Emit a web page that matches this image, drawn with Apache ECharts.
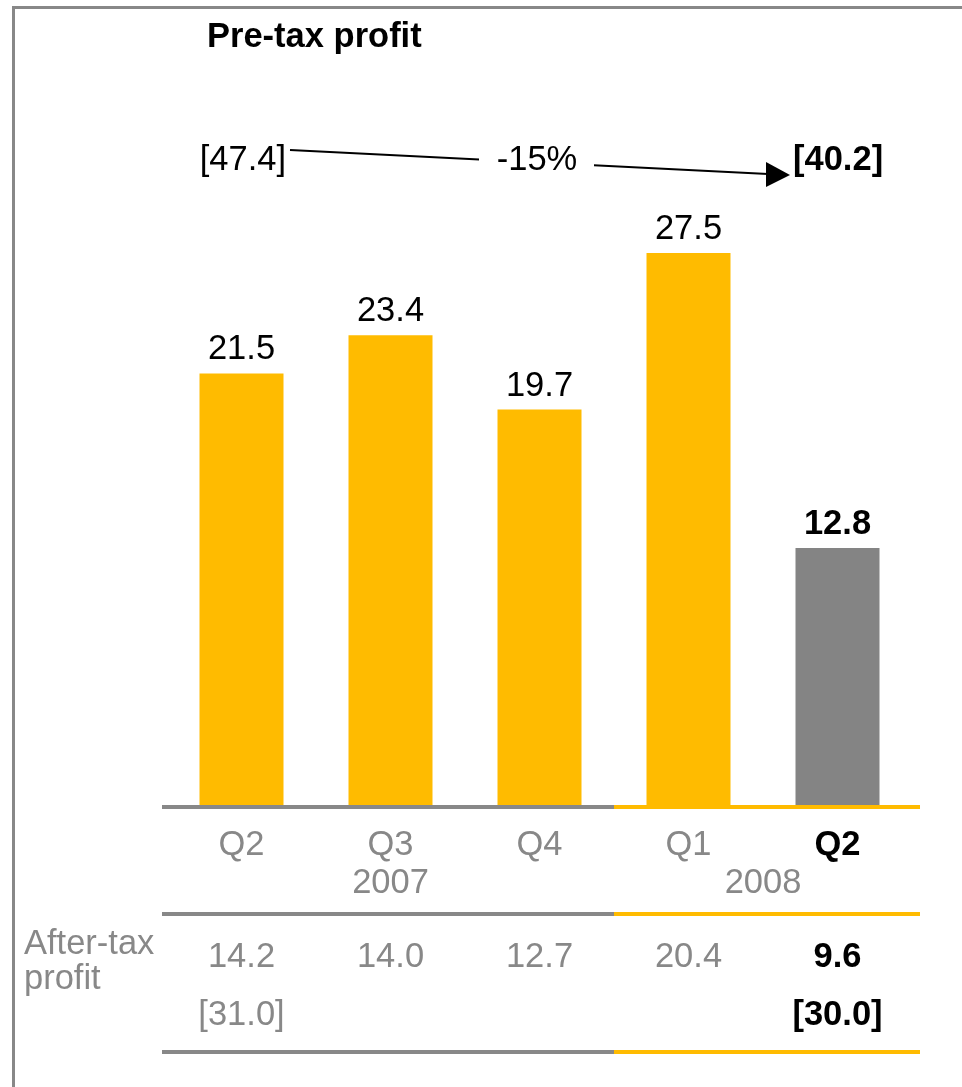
<!DOCTYPE html>
<html>
<head>
<meta charset="utf-8">
<script src="https://cdn.jsdelivr.net/npm/echarts@6/dist/echarts.min.js"></script>
<style>
html,body{margin:0;padding:0;background:#fff;}
#c{width:962px;height:1087px;}
</style>
</head>
<body>
<div id="c"></div>
<script>
const title = 'Pre-tax profit';
const categories = ['Q2', 'Q3', 'Q4', 'Q1', 'Q2'];
const years = ['2007', '2008'];
const preTax = [21.5, 23.4, 19.7, 27.5, 12.8];
const afterTax = [14.2, 14.0, 12.7, 20.4, 9.6];
const halfYearPreTax = ['[47.4]', '[40.2]'];
const halfYearChange = '-15%';
const halfYearAfterTax = ['[31.0]', '[30.0]'];
const afterTaxLabel = 'After-tax\nprofit';

const YELLOW = '#FFBB00';
const GRAY = '#888888';
const BAR_GRAY = '#848484';
const FONT = '"Liberation Sans", Arial, Helvetica, sans-serif';
const FS = 34.5;
const last = categories.length - 1;

const chart = echarts.init(document.getElementById('c'), null, {renderer: 'canvas'});

const option = {
  backgroundColor: '#fff',
  animation: false,
  textStyle: {fontFamily: FONT},
  grid: {left: 167, right: 50, top: 2, bottom: 282},
  xAxis: {
    type: 'category',
    data: categories,
    axisLine: {show: false},
    axisTick: {show: false},
    axisLabel: {
      margin: 23,
      formatter: (v, i) => i === last ? '{b|' + v + '}' : '{n|' + v + '}',
      rich: {
        n: {fontSize: FS, color: GRAY, fontFamily: FONT},
        b: {fontSize: FS, color: '#000', fontWeight: 'bold', fontFamily: FONT}
      }
    }
  },
  yAxis: {
    type: 'value', min: 0, max: 40,
    show: false, splitLine: {show: false}
  },
  series: [{
    type: 'bar',
    barWidth: 84,
    data: preTax.map((v, i) => ({
      value: v,
      itemStyle: {color: i === last ? BAR_GRAY : YELLOW},
      label: {fontWeight: i === last ? 'bold' : 'normal'}
    })),
    label: {
      show: true, position: 'top', distance: 6,
      fontSize: FS, color: '#000', fontFamily: FONT,
      formatter: p => p.value.toFixed(1)
    }
  }]
};
chart.setOption(option);

function px(i) { return chart.convertToPixel({xAxisIndex: 0}, i); }
function py(v) { return chart.convertToPixel({yAxisIndex: 0}, v); }

const xs = categories.map((c, i) => px(i));
const band = xs[1] - xs[0];
const lineL = xs[0] - band / 2 - 5;
const lineR = xs[last] + band / 2 + 8;
const split = (xs[2] + xs[3]) / 2;
const base = py(0) + 2;

function twoColorLine(y) {
  return [
    {type: 'line', shape: {x1: lineL, y1: y, x2: split, y2: y}, style: {stroke: GRAY, lineWidth: 4}},
    {type: 'line', shape: {x1: split, y1: y, x2: lineR, y2: y}, style: {stroke: YELLOW, lineWidth: 4}}
  ];
}
function txt(x, y, text, opts) {
  return {
    type: 'text', x: x, y: y,
    style: Object.assign({text: text, fontSize: FS, fontFamily: FONT, fill: '#000', align: 'center', verticalAlign: 'middle'}, opts || {})
  };
}

const graphics = [];
// frame
graphics.push({type: 'polyline', shape: {points: [[13.5, 1087], [13.5, 7.5], [962, 7.5]]}, style: {stroke: GRAY, lineWidth: 3, fill: null}});
// title
graphics.push(txt(207, 37, title, {align: 'left', fontWeight: 'bold', fontSize: 34.5}));
// axis lines
graphics.push(...twoColorLine(base));
graphics.push(...twoColorLine(914));
graphics.push(...twoColorLine(1052));
// year labels
graphics.push(txt(xs[1], 883, years[0], {fill: GRAY}));
graphics.push(txt((xs[3] + xs[4]) / 2, 883, years[1], {fill: GRAY}));
// half-year arrow
graphics.push({type: 'line', shape: {x1: 290, y1: 150, x2: 768, y2: 174}, style: {stroke: '#000', lineWidth: 2.2}});
graphics.push({type: 'polygon', shape: {points: [[766, 162], [790, 175], [766, 187]]}, style: {fill: '#000'}});
graphics.push({type: 'rect', shape: {x: 479, y: 140, width: 115, height: 40}, style: {fill: '#fff'}});
graphics.push(txt(537, 160, halfYearChange));
graphics.push(txt(286, 160, halfYearPreTax[0], {align: 'right'}));
graphics.push(txt(793, 160, halfYearPreTax[1], {align: 'left', fontWeight: 'bold'}));
// after-tax table
graphics.push(txt(24, 962, afterTaxLabel, {align: 'left', fill: GRAY, lineHeight: 35}));
afterTax.forEach((v, i) => {
  graphics.push(txt(xs[i], 957, v.toFixed(1), {fill: i === last ? '#000' : GRAY, fontWeight: i === last ? 'bold' : 'normal'}));
});
graphics.push(txt(xs[0], 1015, halfYearAfterTax[0], {fill: GRAY}));
graphics.push(txt(xs[last], 1015, halfYearAfterTax[1], {fontWeight: 'bold'}));

chart.setOption({graphic: graphics});
</script>
</body>
</html>
